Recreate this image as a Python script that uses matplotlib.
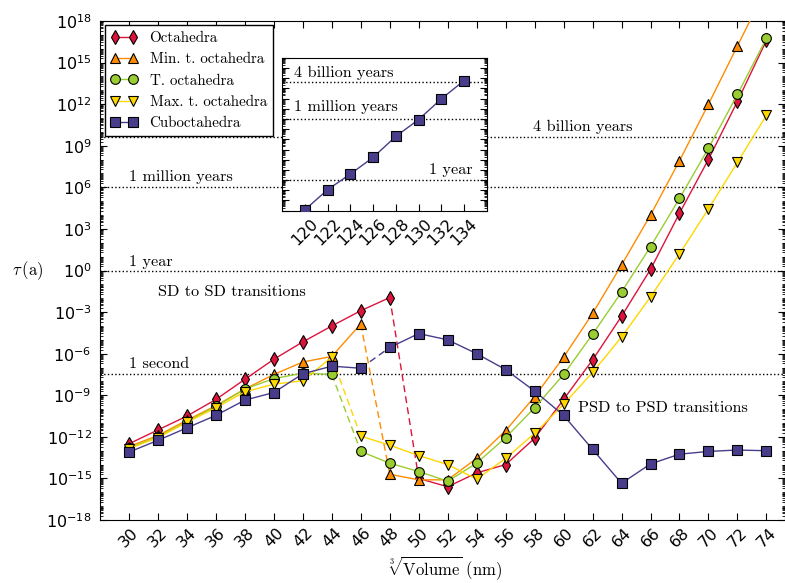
import numpy as np
import matplotlib
matplotlib.use("Agg")
import matplotlib.pyplot as plt
from matplotlib.ticker import LogLocator, NullFormatter

plt.rcParams['font.family'] = ['DejaVu Sans']
plt.rcParams['mathtext.fontset'] = 'dejavusans'

# cube root of volume (nm)
sizes = [30, 32, 34, 36, 38, 40, 42, 44, 46, 48, 50, 52,
         54, 56, 58, 60, 62, 64, 66, 68, 70, 72, 74]

# log10 of tau (years)
octa = [-12.5, -11.5, -10.5, -9.3, -7.85, -6.4, -5.15, -4.0, -2.9, -1.95, -15.0, -15.6,
        -14.6, -14.0, -12.1, -9.3, -6.45, -3.3, 0.08, 4.13, 8.02, 12.2, 16.6]
min_trunc = [-12.7, -11.9, -10.8, -9.75, -8.55, -7.5, -6.6, -6.2, -3.85, -14.7, -15.1, -15.1,
             -13.55, -11.55, -9.1, -6.25, -3.1, 0.4, 4.0, 7.92, 12.0, 16.2, 20.4]
trunc = [-12.8, -12.0, -10.9, -9.8, -8.55, -7.8, -7.4, -7.5, -13.05, -13.9, -14.5, -15.2,
         -13.9, -12.05, -9.9, -7.5, -4.6, -1.55, 1.72, 5.2, 8.82, 12.7, 16.75]
max_trunc = [-12.85, -12.05, -10.95, -9.9, -8.75, -8.2, -7.95, -6.25, -11.95, -12.6, -13.35, -14.0,
             -15.05, -13.55, -11.75, -9.65, -7.35, -4.8, -1.9, 1.2, 4.45, 7.8, 11.2]
cubo = [-13.1, -12.25, -11.35, -10.45, -9.35, -8.8, -7.45, -6.9, -7.05, -5.55, -4.55, -5.0,
        -6.0, -7.15, -8.7, -10.45, -12.9, -15.35, -13.95, -13.25, -13.05, -12.95, -13.0]

# inset: cuboctahedra at large sizes
big_sizes = [120, 122, 124, 126, 128, 130, 132, 134]
big_cubo = [-2.9, -0.93, 0.6, 2.23, 4.29, 5.93, 7.96, 9.75]

labels = ['Octahedra', 'Min. t. octahedra', 'T. octahedra', 'Max. t. octahedra', 'Cuboctahedra']
colors = ['#dc143c', '#ff8c00', '#9acd32', '#ffd700', '#483d8b']
markers = ['d', '^', 'o', 'v', 's']
breaks = [48, 46, 44, 44, 46]   # last size before the dashed jump

second = 1.0 / 3.156e7
times = [second, 1.0, 1e6, 4e9]

serif = ['cmr10', 'DejaVu Serif']

fig = plt.figure(figsize=(7.85, 5.83), dpi=100)
ax = fig.add_axes([0.1274, 0.108, 0.872, 0.856])

for t in times:
    ax.axhline(t, color='k', ls=':', lw=1, zorder=1)

x = np.array(sizes)
for i, (vals, lab) in enumerate(zip([octa, min_trunc, trunc, max_trunc, cubo], labels)):
    y = 10.0 ** np.array(vals)
    b = sizes.index(breaks[i])
    z = 2 + i
    kw = dict(color=colors[i], lw=1, marker=markers[i], mfc=colors[i], mec='k', mew=0.8, ms=7, zorder=z)
    ax.plot(x[:b + 1], y[:b + 1], label=lab, **kw)
    ax.plot(x[b:b + 2], y[b:b + 2], color=colors[i], lw=1, dashes=(5, 3), zorder=z - 0.5)
    ax.plot(x[b + 1:], y[b + 1:], **kw)

ax.set_yscale('log')
ax.set_xlim(28, 75.25)
ax.set_ylim(1e-18, 1e18)
ax.set_xticks(sizes)
ax.set_xticklabels([str(s) for s in sizes], rotation=45, fontsize=11.5)
ax.set_yticks([10.0 ** k for k in range(-18, 19, 3)])
ax.yaxis.set_minor_locator(LogLocator(base=10, subs=np.arange(1, 10), numticks=200))
ax.yaxis.set_minor_formatter(NullFormatter())
ax.tick_params(which='both', direction='in', top=True, right=True)
ax.tick_params(which='major', length=5, labelsize=11.5)
ax.tick_params(axis='y', which='major', pad=6)
ax.tick_params(which='minor', length=2.5)

ax.set_ylabel(r'$\tau\,(\mathrm{a})$', rotation=0, fontsize=12, math_fontfamily='cm')
ax.yaxis.set_label_coords(-0.105, 0.5)
ax.yaxis.label.set_va('center')
ax.set_xlabel(r'$\sqrt[3]{\mathrm{Volume}}\ (\mathrm{nm})$', fontsize=12, math_fontfamily='cm')
ax.xaxis.set_label_coords(0.504, -0.097)
ax.xaxis.label.set_va('center')

tk = dict(fontsize=11.7, family=serif, va='center')
ax.text(30, 10 ** 0.61, '1 year', **tk)
ax.text(30, 10 ** -6.75, '1 second', **tk)
ax.text(30, 10 ** 6.74, '1 million years', **tk)
ax.text(57.9, 10 ** 10.35, '4 billion years', **tk)
ax.text(37.1, 10 ** -1.55, 'SD to SD transitions', ha='center', **tk)
ax.text(61.0, 10 ** -9.92, 'PSD to PSD transitions', **tk)

leg = ax.legend(loc='upper left', numpoints=2, fancybox=False, framealpha=1,
                edgecolor='k', borderaxespad=0.3, handlelength=1.8,
                prop={'family': serif, 'size': 10.8})
leg.get_frame().set_linewidth(1)
leg.set_zorder(20)

# inset
ins = fig.add_axes([0.3596, 0.6386, 0.2604, 0.2624])
ins.set_zorder(30)
for t in times[1:]:
    ins.axhline(t, color='k', ls=':', lw=1, zorder=1)
ins.plot(big_sizes, 10.0 ** np.array(big_cubo), color=colors[4], lw=1, marker='s',
         mfc=colors[4], mec='k', mew=0.8, ms=7, zorder=3)
ins.set_yscale('log')
ins.set_xlim(118, 136)
ins.set_ylim(1e-3, 1e12)
ins.set_xticks(big_sizes)
ins.set_xticklabels([str(s) for s in big_sizes], rotation=45, fontsize=11.5)
ins.yaxis.set_major_locator(LogLocator(base=10, numticks=50))
ins.yaxis.set_minor_locator(LogLocator(base=10, subs=np.arange(1, 10), numticks=200))
ins.yaxis.set_major_formatter(NullFormatter())
ins.yaxis.set_minor_formatter(NullFormatter())
ins.tick_params(which='both', direction='in', right=True)
ins.tick_params(which='major', length=5)
ins.tick_params(which='minor', length=2.5)
ins.text(119.0, 10 ** 10.47, '4 billion years', **tk)
ins.text(119.0, 10 ** 7.17, '1 million years', **tk)
ins.text(134.8, 10 ** 0.99, '1 year', ha='right', **tk)

fig.savefig('out.png', dpi=100)
